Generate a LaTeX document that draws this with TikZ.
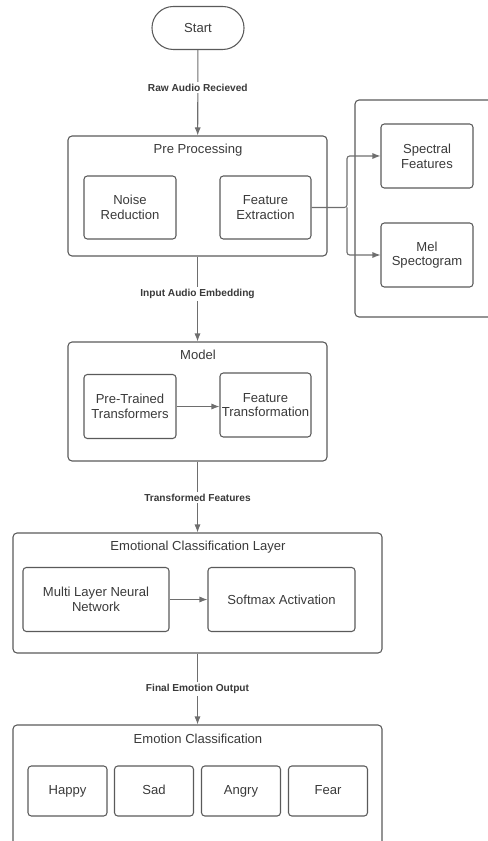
\documentclass[tikz,border=0pt]{standalone}
\usepackage{fontspec}
\setmainfont{Liberation Sans}
\usetikzlibrary{arrows.meta,positioning,calc}
\definecolor{ink}{HTML}{3A3A3A}
\definecolor{edge}{HTML}{5A5A5A}
\definecolor{wire}{HTML}{6E6E6E}

\begin{document}
\begin{tikzpicture}[x=0.75pt,y=-0.75pt,>={Latex[length=6pt,width=4.6pt]},
    box/.style={draw=edge,line width=0.8pt,rounded corners=2.5pt,align=center,text=ink,
      font=\fontsize{9.8}{11}\selectfont,inner sep=0pt,minimum width=69pt,minimum height=48pt},
    frame/.style={draw=edge,line width=0.8pt,rounded corners=3pt,inner sep=0pt},
    title/.style={text=ink,font=\fontsize{9.8}{11}\selectfont},
    emobox/.style={box,minimum width=59.25pt,minimum height=37.5pt,text height=7pt,text depth=2pt},
    lbl/.style={fill=white,text=ink,font=\fontsize{7.6}{9}\selectfont\bfseries,inner sep=1.5pt},
    wire/.style={->,draw=wire,line width=0.8pt}]
    \clip (0,0) rectangle (488,841);
    % start
    \node[box,rounded corners=16pt,minimum height=32.25pt] (start) at (198,28) {Start};
    % pre processing
    \node[frame,minimum width=194.25pt,minimum height=90pt] (pre) at (197.5,196) {};
    \node[title] (pret) at (198,150) {Pre Processing};
    \node[box,minimum height=47.25pt] (noise) at (130,207.5) {Noise\\Reduction};
    \node[box,minimum width=68.25pt,minimum height=47.25pt] (featx) at (265.5,207.5) {Feature\\Extraction};
    \node[frame,minimum width=108.75pt,minimum height=162.75pt] (side) at (427.5,208.5) {};
    \node[box] (spec) at (427,156) {Spectral\\Features};
    \node[box] (mel) at (427,255) {Mel\\Spectogram};
    \coordinate (split) at (347,207.5);
    % model
    \node[frame,minimum width=194.25pt,minimum height=89.25pt] (model) at (197.5,401.5) {};
    \node[title] (modelt) at (198,355) {Model};
    \node[box] (ptt) at (130,406.5) {Pre-Trained\\Transformers};
    \node[box,minimum width=68.25pt] (ftr) at (265.5,405) {Feature\\Transformation};
    % classification layer
    \node[frame,minimum width=276.75pt,minimum height=90pt] (ecl) at (197.5,593) {};
    \node[title] (eclt) at (198,547) {Emotional Classification Layer};
    \node[box,minimum width=109.5pt] (mlnn) at (96,599.5) {Multi Layer Neural\\Network};
    \node[box,minimum width=110.25pt] (soft) at (281.5,599.5) {Softmax Activation};
    % output
    \node[frame,minimum width=276.75pt,minimum height=108.75pt] (emo) at (197.5,797.5) {};
    \node[title] (emot) at (198,739) {Emotion Classification};
    \foreach \e/\t/\x in {happy/Happy/67.5,sad/Sad/154,angry/Angry/241,fear/Fear/328}
      \node[emobox] (\e) at (\x,791) {\t};
    % connectors
    \draw[wire] (start) -- node[lbl,pos=0.44] {Raw Audio Recieved} (pre);
    \draw[wire,rounded corners=2pt] (featx.east) -- (split) |- (spec.west);
    \draw[wire,rounded corners=2pt] (split) |- (mel.west);
    \draw[wire] (pre) -- node[lbl,pos=0.44] {Input Audio Embedding} (model);
    \draw[wire] (ptt.east) -- (ptt.east -| ftr.west);
    \draw[wire] (model) -- node[lbl,pos=0.51] {Transformed Features} (ecl);
    \draw[wire] (mlnn) -- (soft);
    \draw[wire] (ecl) -- node[lbl,pos=0.5] {Final Emotion Output} (emo);
  \end{tikzpicture}
\end{document}
